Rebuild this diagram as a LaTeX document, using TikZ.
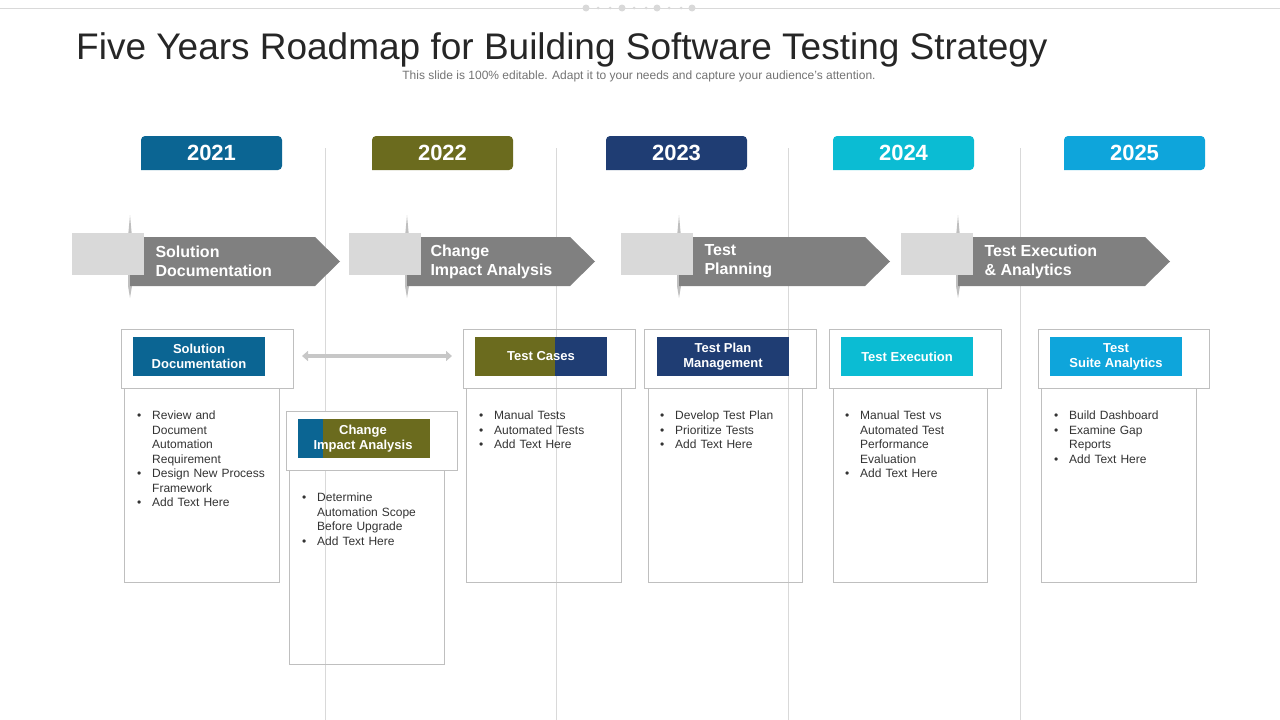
\documentclass[tikz,border=0pt]{standalone}
\usepackage{fontspec}
\setmainfont{Liberation Sans}
\usetikzlibrary{arrows.meta}
\definecolor{cA}{HTML}{0B6593}
\definecolor{cB}{HTML}{6B6B1E}
\definecolor{cC}{HTML}{1F3D73}
\definecolor{cD}{HTML}{0BBCD3}
\definecolor{cE}{HTML}{0EA5DB}
\definecolor{ag}{HTML}{808080}
\definecolor{lg}{HTML}{D9D9D9}
\newcommand{\bul}{\makebox[15pt][l]{\textbullet}}
\newcommand{\ind}{\hspace*{15pt}}
\begin{document}
\begin{tikzpicture}[x=1pt,y=-1pt,
  year/.style={text=white,font=\bfseries\fontsize{22}{24}\selectfont,inner sep=0},
  vline/.style={draw=lg,line width=0.8pt},
  atext/.style={text=white,font=\bfseries\fontsize{16}{19}\selectfont,align=left,anchor=west},
  obox/.style={draw=gray!50,line width=0.6pt},
  htext/.style={text=white,font=\bfseries\fontsize{13}{15}\selectfont,align=center},
  btext/.style={font=\fontsize{12}{14.5}\selectfont,text=black!80,align=left,anchor=north west,text width=#1,inner sep=0}]
\useasboundingbox (0,0) rectangle (1280,720);
% top decoration
\draw[lg,line width=0.8pt] (0,8) -- (1280,8);
\foreach \x in {586,622,657,692} \fill[lg] (\x,8) circle (3.5);
\foreach \x in {598,610,634,646,669,681} \fill[lg] (\x,8) circle (1.5);
% title
\node[anchor=west,font=\fontsize{37}{42}\selectfont,text=black!85,inner sep=0] (title) at (76,50) {Five Years Roadmap for Building Software Testing Strategy};
\node[font=\fontsize{12}{14}\selectfont,text=black!55,inner sep=0] (sub) at (639,76) {This slide is 100\% editable. Adapt it to your needs and capture your audience's attention.};
% vertical lines
\foreach \x in {325,556,788,1020} \draw[vline] (\x,148) -- (\x,720);
% years
\foreach \x/\c/\n/\yr in {141/cA/y1/2021,372/cB/y2/2022,606/cC/y3/2023,833/cD/y4/2024,1064/cE/y5/2025}{
  \fill[\c,rounded corners=4pt] (\x,170) -- (\x,136) -- (\x+141,136) -- (\x+141,170) [sharp corners] -- cycle;
  \node[year] (\n) at (\x+70.5,153) {\yr};
}
% arrows
\foreach \r/\b/\e/\t/\lab in {72/130/315/152/{Solution\\Documentation},349/407/570/427/{Change\\Impact Analysis},621/679/865/701/{Test\\Planning},901/958/1145/981/{Test Execution\\\& Analytics}}{
  \fill[black!25] (\b,215) -- (\b+2,237) -- (\b+2,286) -- (\b,298) -- (\b-2,286) -- (\b-2,237) -- cycle;
  \fill[ag] (\b,237) -- (\e,237) -- (\e+25,261.5) -- (\e,286) -- (\b,286) -- cycle;
  \fill[lg] (\r,233) rectangle (\r+72,275);
  \node[atext] at (\t,261.5) {\lab};
}
% boxes
\draw[obox] (121,329) rectangle (293,388);
\draw[obox] (124,388) rectangle (279,582);
\fill[cA] (133,337) rectangle (265,376);
\node[htext] (h1) at (199,356.5) {Solution\\Documentation};
\node[btext=135pt] (b1) at (137,411) {\bul Review and\\\ind Document\\\ind Automation\\\ind Requirement\\\bul Design New Process\\\ind Framework\\\bul Add Text Here};

\draw[obox,fill=white] (286,411) rectangle (457,470);
\draw[obox] (289,470) rectangle (444,664);
\fill[cB] (298,419) rectangle (430,458);
\fill[cA] (298,419) rectangle (323,458);
\node[htext] (h2) at (363,438.5) {Change\\Impact Analysis};
\node[btext=135pt] (b2) at (302,493) {\bul Determine\\\ind Automation Scope\\\ind Before Upgrade\\\bul Add Text Here};

\draw[obox] (463,329) rectangle (635,388);
\draw[obox] (466,388) rectangle (621,582);
\fill[cC] (475,337) rectangle (607,376);
\fill[cB] (475,337) rectangle (555,376);
\node[htext] (h3) at (541,356.5) {Test Cases};
\node[btext=135pt] (b3) at (479,411) {\bul Manual Tests\\\bul Automated Tests\\\bul Add Text Here};

\draw[obox] (644,329) rectangle (816,388);
\draw[obox] (648,388) rectangle (802,582);
\fill[cC] (657,337) rectangle (789,376);
\node[htext] (h4) at (723,356.5) {Test Plan\\Management};
\node[btext=135pt] (b4) at (660,411) {\bul Develop Test Plan\\\bul Prioritize Tests\\\bul Add Text Here};

\draw[obox] (829,329) rectangle (1001,388);
\draw[obox] (833,388) rectangle (987,582);
\fill[cD] (841,337) rectangle (973,376);
\node[htext] (h5) at (907,356.5) {Test Execution};
\node[btext=135pt] (b5) at (845,411) {\bul Manual Test vs\\\ind Automated Test\\\ind Performance\\\ind Evaluation\\\bul Add Text Here};

\draw[obox] (1038,329) rectangle (1209,388);
\draw[obox] (1041,388) rectangle (1196,582);
\fill[cE] (1050,337) rectangle (1182,376);
\node[htext] (h6) at (1116,356.5) {Test\\Suite Analytics};
\node[btext=135pt] (b6) at (1054,411) {\bul Build Dashboard\\\bul Examine Gap\\\ind Reports\\\bul Add Text Here};
% double arrow
\coordinate (da1) at (302,356);
\coordinate (da2) at (452,356);
\draw[lg!80!gray,line width=4pt,{Triangle[length=6pt,width=10pt]}-{Triangle[length=6pt,width=10pt]}] (da1) -- (da2);
\end{tikzpicture}
\end{document}
